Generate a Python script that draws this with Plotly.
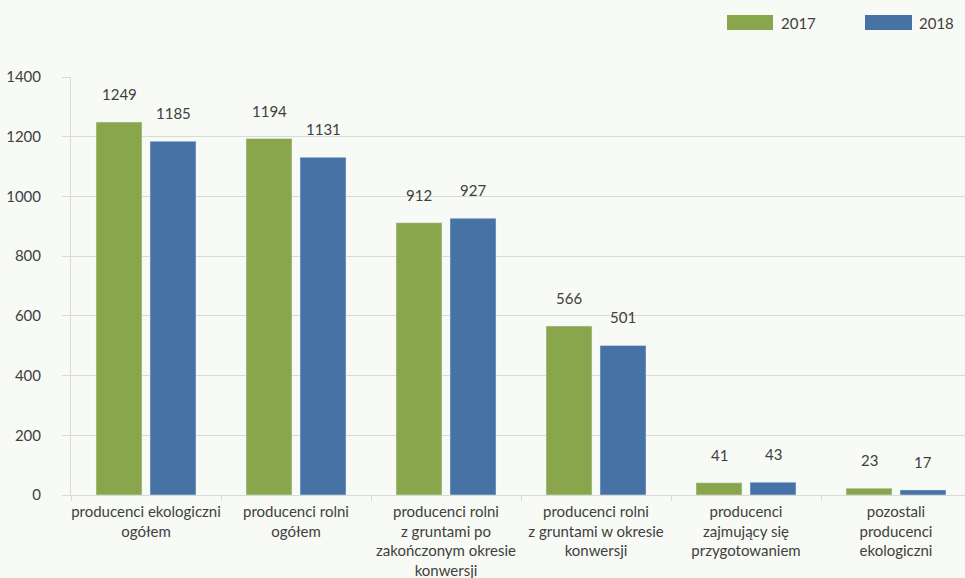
import plotly.graph_objects as go

categories = [
    "producenci ekologiczni<br>ogółem",
    "producenci rolni<br>ogółem",
    "producenci rolni<br>z gruntami po<br>zakończonym okresie<br>konwersji",
    "producenci rolni<br>z gruntami w okresie<br>konwersji",
    "producenci<br>zajmujący się<br>przygotowaniem",
    "pozostali<br>producenci<br>ekologiczni",
]
values_2017 = [1249, 1194, 912, 566, 41, 23]
values_2018 = [1185, 1131, 927, 501, 43, 17]
series_names = ["2017", "2018"]
y_ticks = [0, 200, 400, 600, 800, 1000, 1200, 1400]

GREEN = "#8aa64c"
BLUE = "#4672a6"
BG = "#f8faf5"
GRID = "#d9d9d9"
TXT = "#404040"
FONT = "Lato"

W, H = 965, 578
L, R, T, B = 71, 0, 77, 83

def px_x(p):
    return (p - L) / (W - L - R)

def px_y(p):
    return (H - B - p) / (H - T - B)

fig = go.Figure()
fig.add_trace(go.Bar(x=categories, y=values_2017, name=series_names[0],
                     marker_color=GREEN, showlegend=False))
fig.add_trace(go.Bar(x=categories, y=values_2018, name=series_names[1],
                     marker_color=BLUE, showlegend=False))

annotations = []
for vals, shift in ((values_2017, -27), (values_2018, 27)):
    for c, v in zip(categories, vals):
        annotations.append(dict(x=c, y=v, xref="x", yref="y", text=str(v),
                                showarrow=False, xshift=shift, yshift=17,
                                yanchor="bottom",
                                font=dict(family=FONT, size=15, color=TXT)))

# legend (custom, larger swatches)
shapes = []
for (x0, x1), col, name, tx in (((727, 773), GREEN, series_names[0], 779),
                                ((865, 912), BLUE, series_names[1], 917)):
    shapes.append(dict(type="rect", xref="paper", yref="paper",
                       x0=px_x(x0), x1=px_x(x1), y0=px_y(30), y1=px_y(15),
                       fillcolor=col, line=dict(width=0)))
    annotations.append(dict(x=px_x(tx), y=px_y(22.5), xref="paper", yref="paper",
                            text=name, showarrow=False, xanchor="left",
                            yanchor="middle",
                            font=dict(family=FONT, size=15, color=TXT)))

fig.update_layout(
    width=W, height=H,
    margin=dict(l=L, r=R, t=T, b=B, pad=0, autoexpand=False),
    paper_bgcolor=BG, plot_bgcolor=BG,
    barmode="group", bargap=0.28, bargroupgap=0.148,
    font=dict(family=FONT, size=15, color=TXT),
    annotations=annotations, shapes=shapes,
    showlegend=False,
)
fig.update_xaxes(
    range=[-0.5, 5.46], showline=True, linecolor=GRID, linewidth=1,
    ticks="outside", tickson="boundaries", ticklen=5, tickcolor=GRID,
    showgrid=False, tickangle=0, automargin=False, ticklabelstandoff=3,
    tickfont=dict(family=FONT, size=15, color=TXT),
)
fig.update_yaxes(
    range=[0, 1400], tickvals=y_ticks, showgrid=True, gridcolor=GRID,
    gridwidth=1, showline=True, linecolor=GRID, zeroline=False,
    ticks="outside", ticklen=8, tickcolor=GRID, ticklabelstandoff=18,
    automargin=False,
    tickfont=dict(family=FONT, size=15, color=TXT),
)

fig.write_html("out.html", config={"displayModeBar": False},
               post_script="document.body.style.margin='0';")
